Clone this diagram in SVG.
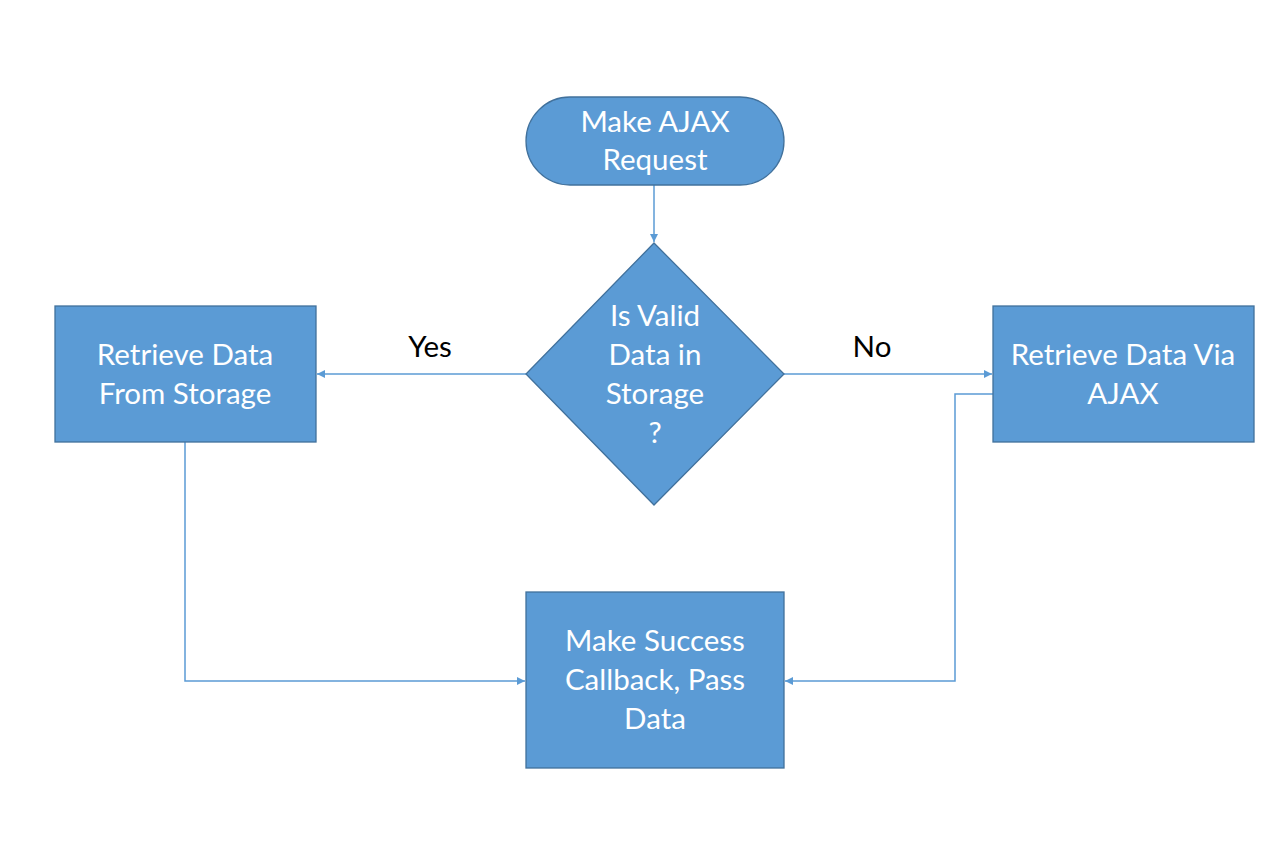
<svg xmlns="http://www.w3.org/2000/svg" width="1282" height="854" viewBox="0 0 1282 854">
<defs>
<style>
.shape{fill:#5b9bd5;stroke:#41719c;stroke-width:1.3}
.t{font-family:Lato,"Open Sans","Liberation Sans",sans-serif;font-size:29.5px;fill:#ffffff;text-anchor:middle}
.lbl{font-family:Lato,"Open Sans","Liberation Sans",sans-serif;font-size:29.5px;fill:#000000;text-anchor:middle}
.c{fill:none;stroke:#5b9bd5;stroke-width:1.5}
</style>
<marker id="ah" viewBox="0 0 10 10" refX="10" refY="5" markerWidth="8" markerHeight="8" markerUnits="userSpaceOnUse" orient="auto">
<path d="M0,0 L10,5 L0,10 z" fill="#5b9bd5"/>
</marker>
</defs>
<rect width="1282" height="854" fill="#ffffff"/>
<g id="connectors">
<path class="c" d="M654,185 L654,242" marker-end="url(#ah)"/>
<path class="c" d="M526,374 L317,374" marker-end="url(#ah)"/>
<path class="c" d="M784,374 L992,374" marker-end="url(#ah)"/>
<path class="c" d="M185,442 L185,681 L525,681" marker-end="url(#ah)"/>
<path class="c" d="M993,394 L955,394 L955,681 L785,681" marker-end="url(#ah)"/>
<text class="lbl" x="430" y="357">Yes</text>
<text class="lbl" x="872" y="357">No</text>
</g>
<g id="start">
<rect class="shape" x="526" y="97" width="258" height="88" rx="44" ry="44"/>
<text class="t" x="655" y="132">Make AJAX</text>
<text class="t" x="655" y="170">Request</text>
</g>
<g id="decision">
<polygon class="shape" points="654,243 784,374 654,505 526,374"/>
<text class="t" x="655" y="326">Is Valid</text>
<text class="t" x="655" y="365">Data in</text>
<text class="t" x="655" y="404">Storage</text>
<text class="t" x="655" y="443">?</text>
</g>
<g id="storage">
<rect class="shape" x="55" y="306" width="261" height="136"/>
<text class="t" x="185" y="365">Retrieve Data</text>
<text class="t" x="185" y="404">From Storage</text>
</g>
<g id="ajax">
<rect class="shape" x="993" y="306" width="261" height="136"/>
<text class="t" x="1123" y="365">Retrieve Data Via</text>
<text class="t" x="1123" y="404">AJAX</text>
</g>
<g id="success">
<rect class="shape" x="526" y="592" width="258" height="176"/>
<text class="t" x="655" y="651">Make Success</text>
<text class="t" x="655" y="690">Callback, Pass</text>
<text class="t" x="655" y="729">Data</text>
</g>
</svg>
